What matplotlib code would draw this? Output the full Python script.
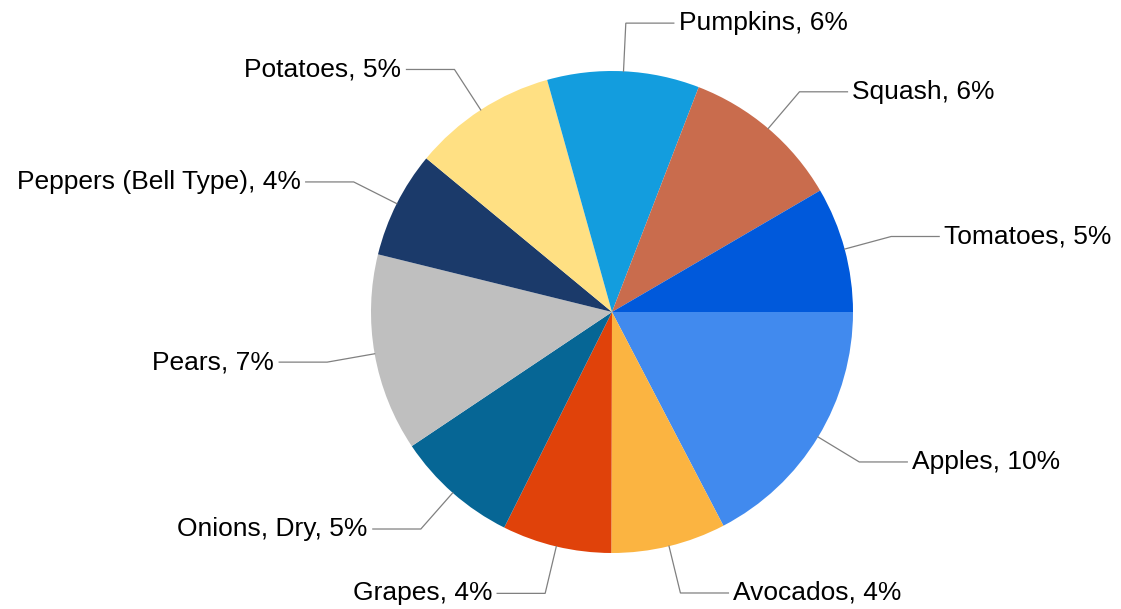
import numpy as np
import matplotlib
matplotlib.use("Agg")
import matplotlib.pyplot as plt

# ---- data ----
categories = ["Apples", "Avocados", "Grapes", "Onions, Dry", "Pears",
              "Peppers (Bell Type)", "Potatoes", "Pumpkins", "Squash", "Tomatoes"]
shares = [9.7, 4.3, 4.1, 4.6, 7.4, 4.0, 5.4, 5.7, 6.0, 4.7]
colors = ["#418AEE", "#FBB441", "#E0420A", "#066695", "#BFBFBF",
          "#1B3A6A", "#FFE083", "#139DDE", "#C96C4D", "#0059DB"]

plt.rcParams['font.family'] = ['Liberation Sans', 'DejaVu Sans']

W, H = 1121, 609
fig = plt.figure(figsize=(W / 100, H / 100), dpi=100)
ax = fig.add_axes([0, 0, 1, 1])
ax.set_xlim(0, W)
ax.set_ylim(0, H)
ax.set_aspect('equal')
ax.axis('off')

cx, cy, R = 612, H - 312, 241
wedges, _ = ax.pie(shares, colors=colors, startangle=0, counterclock=False,
                   center=(cx, cy), radius=R, frame=True,
                   wedgeprops=dict(linewidth=0))
ax.set_xlim(0, W)
ax.set_ylim(0, H)
ax.axis('off')

for w, name, v in zip(wedges, categories, shares):
    th = np.deg2rad((w.theta1 + w.theta2) / 2)
    c, s = np.cos(th), np.sin(th)
    p0 = (cx + R * c, cy + R * s)
    p1 = (cx + 1.2 * R * c, cy + 1.2 * R * s)
    sign = 1 if c >= 0 else -1
    p2 = (p1[0] + sign * 48, p1[1])
    ax.plot([p0[0], p1[0], p2[0]], [p0[1], p1[1], p2[1]],
            color="#808080", lw=0.9, solid_joinstyle='miter')
    ax.text(p2[0] + sign * 5, p2[1], f"{name}, {round(v)}%",
            ha='left' if sign > 0 else 'right', va='center',
            fontsize=19, color='black')

fig.savefig("out.png", dpi=100)
